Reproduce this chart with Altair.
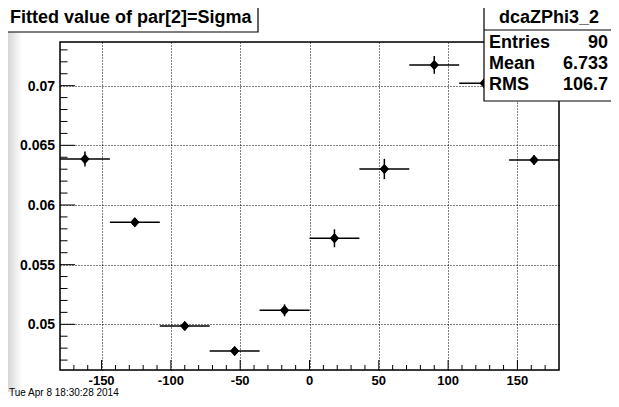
import altair as alt
import pandas as pd

# ---- data ----
bin_centers = [-162, -126, -90, -54, -18, 18, 54, 90, 126, 162]
bin_half_width = [18, 18, 18, 18, 18, 18, 18, 18, 18, 18]
sigma_values = [0.06386, 0.05855, 0.04986, 0.04776, 0.05117,
                0.05721, 0.06302, 0.07174, 0.07020, 0.06377]
sigma_errors = [0.00063, 0.00020, 0.00020, 0.00020, 0.00050,
                0.00075, 0.00085, 0.00075, 0.00030, 0.00040]

x_major_ticks = [-150, -100, -50, 0, 50, 100, 150]
x_tick_labels = ["-150", "-100", "-50", "0", "50", "100", "150"]
x_minor_ticks = [-170, -160, -140, -130, -120, -110, -90, -80, -70, -60,
                 -40, -30, -20, -10, 10, 20, 30, 40, 60, 70, 80, 90,
                 110, 120, 130, 140, 160, 170]
y_major_ticks = [0.05, 0.055, 0.06, 0.065, 0.07]
y_tick_labels = ["0.05", "0.055", "0.06", "0.065", "0.07"]
y_minor_ticks = [0.047, 0.048, 0.049, 0.051, 0.052, 0.053, 0.054, 0.056,
                 0.057, 0.058, 0.059, 0.061, 0.062, 0.063, 0.064, 0.066,
                 0.067, 0.068, 0.069, 0.071, 0.072, 0.073]

x_domain = [-180, 180]
y_domain = [0.04617, 0.07366]

title_text = "Fitted value of par[2]=Sigma"
stat_name = "dcaZPhi3_2"
stat_labels = ["Entries", "Mean", "RMS"]
stat_values = ["90", "6.733", "106.7"]
date_text = "Tue Apr  8 18:30:28 2014"

FONT = "Liberation Sans"
W, H = 499, 328

df = pd.DataFrame({"x": bin_centers, "y": sigma_values,
                   "err": sigma_errors, "hw": bin_half_width})
df["xlo"] = df["x"] - df["hw"]
df["xhi"] = df["x"] + df["hw"]
df["ylo"] = df["y"] - df["err"]
df["yhi"] = df["y"] + df["err"]

xs = alt.Scale(domain=x_domain, nice=False, zero=False)
ys = alt.Scale(domain=y_domain, nice=False, zero=False)

x_axis = alt.Axis(
    values=x_major_ticks, ticks=False, domain=False, grid=True, labels=False,
    gridDash=[1, 2], gridColor="black", gridOpacity=1, gridWidth=1, title=None)
y_axis = alt.Axis(
    values=y_major_ticks, ticks=False, domain=False, grid=True, labels=False,
    gridDash=[1, 2], gridColor="black", gridOpacity=1, gridWidth=1, title=None)

one = pd.DataFrame({"a": [0]})


def fixed_text(txt, x, y, size, weight="bold", align="left"):
    return alt.Chart(one).mark_text(
        font=FONT, fontSize=size, fontWeight=weight, color="black",
        align=align, baseline="middle"
    ).encode(x=alt.value(x), y=alt.value(y), text=alt.value(txt))


def fixed_rect(x, x2, y, y2, **kw):
    return alt.Chart(one).mark_rect(**kw).encode(
        x=alt.value(x), x2=alt.value(x2), y=alt.value(y), y2=alt.value(y2))


# left grey gradient of the canvas
bg = fixed_rect(-60, -38, -42, 350, color=alt.Gradient(
    gradient="linear",
    stops=[alt.GradientStop(color="#c0c0c0", offset=0),
           alt.GradientStop(color="#ffffff", offset=1)],
    x1=0, x2=1, y1=0, y2=0))

base = alt.Chart(df)

points = base.mark_point(
    shape="M0,-1L0.9,0L0,1L-0.9,0Z", filled=True, size=100,
    color="black", opacity=1
).encode(
    x=alt.X("x:Q", scale=xs, axis=x_axis),
    y=alt.Y("y:Q", scale=ys, axis=y_axis),
)

hbars = base.mark_rule(color="black", strokeWidth=1.5).encode(
    x=alt.X("xlo:Q", scale=xs, axis=x_axis), x2="xhi:Q",
    y=alt.Y("y:Q", scale=ys, axis=y_axis))
vbars = base.mark_rule(color="black", strokeWidth=1.5).encode(
    x=alt.X("x:Q", scale=xs, axis=x_axis),
    y=alt.Y("ylo:Q", scale=ys, axis=y_axis), y2="yhi:Q")

xt = pd.DataFrame({"t": x_major_ticks, "lab": x_tick_labels})
yt = pd.DataFrame({"t": y_major_ticks, "lab": y_tick_labels})

xmaj = alt.Chart(xt).mark_rule(color="black", strokeWidth=1).encode(
    x=alt.X("t:Q", scale=xs, axis=x_axis), y=alt.value(H), y2=alt.value(H - 10))
xmin = alt.Chart(pd.DataFrame({"t": x_minor_ticks})).mark_rule(color="black", strokeWidth=1).encode(
    x=alt.X("t:Q", scale=xs, axis=x_axis), y=alt.value(H), y2=alt.value(H - 5))
ymaj = alt.Chart(yt).mark_rule(color="black", strokeWidth=1).encode(
    y=alt.Y("t:Q", scale=ys, axis=y_axis), x=alt.value(0), x2=alt.value(15))
ymin = alt.Chart(pd.DataFrame({"t": y_minor_ticks})).mark_rule(color="black", strokeWidth=1).encode(
    y=alt.Y("t:Q", scale=ys, axis=y_axis), x=alt.value(0), x2=alt.value(7.5))

xlabels = alt.Chart(xt).mark_text(
    font=FONT, fontSize=13, fontWeight="bold", color="black",
    align="center", baseline="middle"
).encode(x=alt.X("t:Q", scale=xs, axis=x_axis), y=alt.value(H + 11), text="lab:N")
ylabels = alt.Chart(yt).mark_text(
    font=FONT, fontSize=14, fontWeight="bold", color="black",
    align="right", baseline="middle", dy=1
).encode(y=alt.Y("t:Q", scale=ys, axis=y_axis), x=alt.value(-5), text="lab:N")

frame = fixed_rect(0, W, 0, H, fill=None, fillOpacity=0, stroke="black", strokeWidth=1.5)

# stat box
stat_layers = [
    fixed_rect(424, 557, -42, 59, fill="white", stroke="black", strokeWidth=1.2),
    alt.Chart(one).mark_rule(color="black", strokeWidth=1.2).encode(
        x=alt.value(424), x2=alt.value(557), y=alt.value(-12)),
    fixed_text(stat_name, 489, -24, 18, align="center"),
]
row_y = [0.5, 21.5, 43]
for lab, val, ry in zip(stat_labels, stat_values, row_y):
    stat_layers.append(fixed_text(lab, 429, ry, 18))
    stat_layers.append(fixed_text(val, 548, ry, 18, align="right"))

title_layers = [
    fixed_rect(-58, 198, -42, -10, fill="white", stroke="black", strokeWidth=1.2),
    fixed_text(title_text, -50, -24, 18),
]

date_txt = fixed_text(date_text, -51, 351, 10, weight="normal")

chart = alt.layer(
    bg, points, hbars, vbars, points, xmaj, xmin, ymaj, ymin, xlabels, ylabels,
    frame, *stat_layers, *title_layers, date_txt
).properties(
    width=W, height=H,
    autosize=alt.AutoSizeParams(type="none"),
    padding={"left": 52, "top": 34, "right": 52, "bottom": 29},
).configure_view(stroke=None).configure(background="white")

chart.save("out.html", embed_options={"renderer": "svg", "actions": False})
